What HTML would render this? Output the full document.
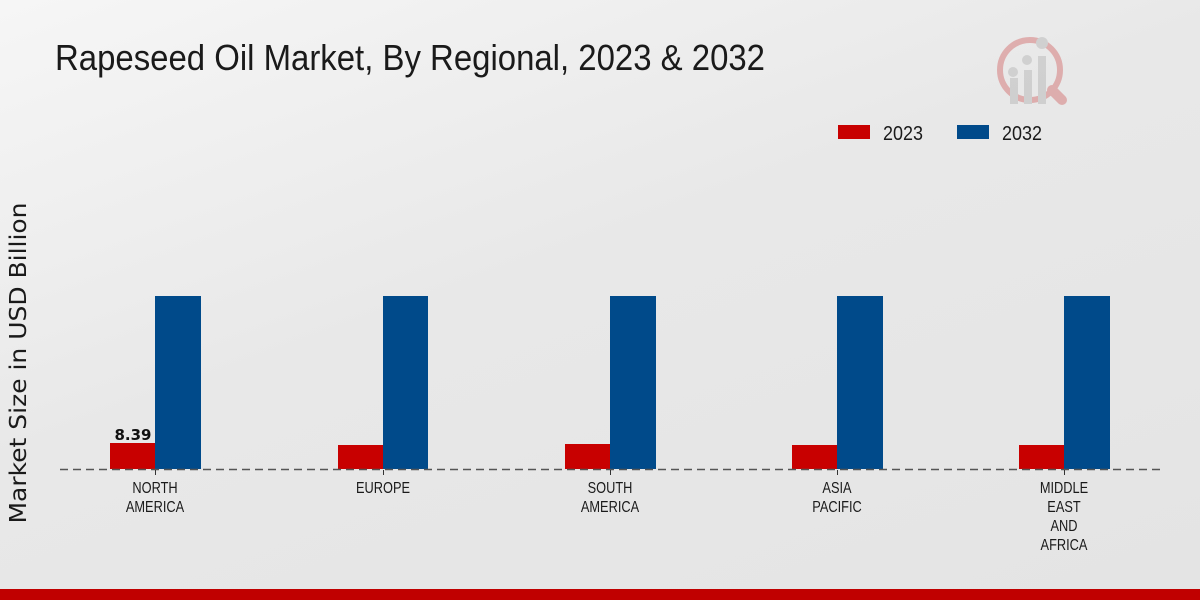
<!DOCTYPE html>
<html><head><meta charset="utf-8"><style>
body{margin:0;width:1200px;height:600px;overflow:hidden;font-family:"Liberation Sans",sans-serif;}
.bg{position:absolute;left:0;top:0;width:1200px;height:600px;background:linear-gradient(160deg,#f6f6f6 0%,#e8e8e8 45%,#e4e4e4 100%);}
</style></head><body>
<div class="bg"></div>
<svg width="1200" height="600" style="position:absolute;left:0;top:0">
<text x="55" y="70" font-size="36" fill="#1a1a1a" textLength="710" lengthAdjust="spacingAndGlyphs">Rapeseed Oil Market, By Regional, 2023 &amp; 2032</text>
<g opacity="0.25">
<circle cx="1030" cy="70" r="30" fill="none" stroke="#c00000" stroke-width="6"/>
<line x1="1052" y1="90" x2="1062" y2="100" stroke="#c00000" stroke-width="10" stroke-linecap="round"/>
<rect x="1010" y="78" width="8" height="26" fill="#888"/><rect x="1024" y="70" width="8" height="34" fill="#888"/><rect x="1038" y="56" width="8" height="48" fill="#888"/>
<circle cx="1013" cy="72" r="5" fill="#888"/><circle cx="1027" cy="60" r="5" fill="#888"/><circle cx="1042" cy="43" r="6" fill="#888"/>
</g>
<rect x="838" y="125" width="32" height="14" fill="#c80000"/>
<text x="883" y="140" font-size="20" fill="#1a1a1a" textLength="40" lengthAdjust="spacingAndGlyphs">2023</text>
<rect x="957" y="125" width="32" height="14" fill="#004a8a"/>
<text x="1002" y="140" font-size="20" fill="#1a1a1a" textLength="40" lengthAdjust="spacingAndGlyphs">2032</text>
<text transform="translate(26,363) rotate(-90)" text-anchor="middle" font-size="23" fill="#1a1a1a" font-family="DejaVu Sans, sans-serif" textLength="321" lengthAdjust="spacingAndGlyphs">Market Size in USD Billion</text>
<g fill="#c80000">
<rect x="110" y="443" width="45" height="26"/><rect x="338" y="445" width="45" height="24"/><rect x="565" y="444" width="45" height="25"/><rect x="792" y="445" width="45" height="24"/><rect x="1019" y="445" width="45" height="24"/>
</g>
<g fill="#004a8a">
<rect x="155" y="296" width="46" height="173"/><rect x="383" y="296" width="45" height="173"/><rect x="610" y="296" width="46" height="173"/><rect x="837" y="296" width="46" height="173"/><rect x="1064" y="296" width="46" height="173"/>
</g>
<line x1="60" y1="469.5" x2="1160" y2="469.5" stroke="#555" stroke-width="1.5" stroke-dasharray="8,5"/>
<g stroke="#333"><line x1="155.5" y1="470" x2="155.5" y2="475"/><line x1="383.5" y1="470" x2="383.5" y2="475"/><line x1="610.5" y1="470" x2="610.5" y2="475"/><line x1="837.5" y1="470" x2="837.5" y2="475"/><line x1="1064.5" y1="470" x2="1064.5" y2="475"/></g>
<text x="133" y="440" text-anchor="middle" font-size="15" font-weight="bold" fill="#111" font-family="DejaVu Sans, sans-serif">8.39</text>
<g font-size="16" fill="#1a1a1a" text-anchor="middle">
<text transform="translate(155,493) scale(0.8,1)">NORTH</text><text transform="translate(155,512) scale(0.8,1)">AMERICA</text>
<text transform="translate(383,493) scale(0.8,1)">EUROPE</text>
<text transform="translate(610,493) scale(0.8,1)">SOUTH</text><text transform="translate(610,512) scale(0.8,1)">AMERICA</text>
<text transform="translate(837,493) scale(0.8,1)">ASIA</text><text transform="translate(837,512) scale(0.8,1)">PACIFIC</text>
<text transform="translate(1064,493) scale(0.8,1)">MIDDLE</text><text transform="translate(1064,512) scale(0.8,1)">EAST</text><text transform="translate(1064,531) scale(0.8,1)">AND</text><text transform="translate(1064,550) scale(0.8,1)">AFRICA</text>
</g>
<rect x="0" y="589" width="1200" height="11" fill="#c00000"/>
</svg>
</body></html>
